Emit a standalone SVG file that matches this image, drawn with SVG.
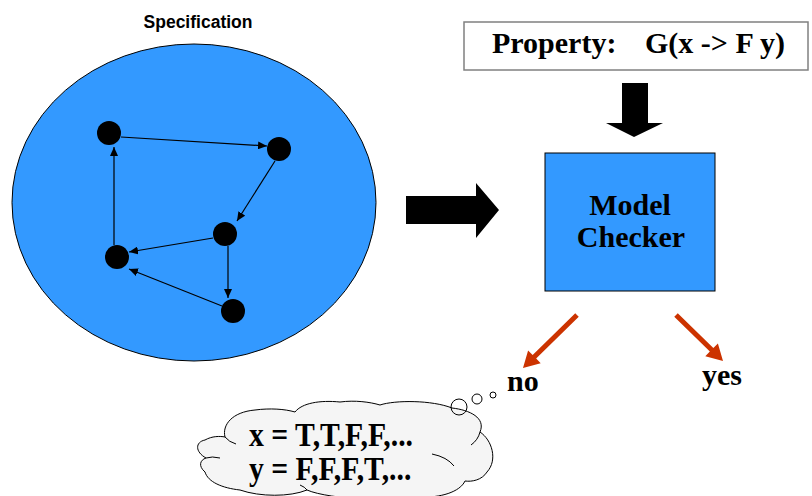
<svg xmlns="http://www.w3.org/2000/svg" width="812" height="496" viewBox="0 0 812 496">
<defs>
<style>
.sans{font-family:"Liberation Sans",Arial,sans-serif;font-weight:bold}
.serif{font-family:"Liberation Serif","Times New Roman",serif;font-weight:bold;fill:#000}
.edge{stroke:#000;stroke-width:1.2;fill:none;marker-end:url(#ah)}
.st{fill:#000}
.blue{fill:#3399FF;stroke:#000;stroke-width:1}
.red{fill:#CC3300}
.ln{fill:none;stroke:#000;stroke-width:1}
</style>
<marker id="ah" markerUnits="userSpaceOnUse" markerWidth="9" markerHeight="8" refX="9" refY="4" orient="auto" viewBox="0 0 9 8">
<path d="M0,0 L9,4 L0,8 z" fill="#000"/>
</marker>
</defs>
<rect width="812" height="496" fill="#fff"/>

<g id="spec">
<text class="sans" x="198" y="28" font-size="17.5" text-anchor="middle">Specification</text>
<ellipse class="blue" cx="194" cy="202.5" rx="182" ry="158.5"/>
</g>

<g id="connectors">
<line class="edge" x1="121" y1="137" x2="267" y2="146"/>
<line class="edge" x1="275" y1="161" x2="237" y2="221"/>
<line class="edge" x1="213" y1="238" x2="129" y2="252"/>
<line class="edge" x1="228" y1="246" x2="228" y2="298"/>
<line class="edge" x1="222" y1="306" x2="129" y2="269"/>
<line class="edge" x1="114" y1="245" x2="114" y2="147"/>
<polygon id="arrow-right" class="st" points="406,196 476,196 476,183 499,210 476,238 476,224 406,224"/>
<polygon id="arrow-down" class="st" points="622,83 648,83 648,123 663,123 634,137 606,123 622,123"/>
<polygon id="arrow-no" class="red" points="578.75,316.78 536.15,358.58 540.7,363.2 523,368 528.1,350.4 532.65,355.02 575.25,313.22"/>
<polygon id="arrow-yes" class="red" points="674.25,316.79 709.85,351.59 705.3,356.2 723,361 717.9,343.4 713.35,348.02 677.75,313.22"/>
</g>

<g id="n1"><circle class="st" cx="109" cy="133" r="12"/></g>
<g id="n2"><circle class="st" cx="279" cy="149" r="12"/></g>
<g id="n3"><circle class="st" cx="225" cy="234" r="12"/></g>
<g id="n4"><circle class="st" cx="117" cy="257" r="12"/></g>
<g id="n5"><circle class="st" cx="233" cy="311" r="12"/></g>

<g id="property">
<rect x="464" y="22" width="344" height="48" fill="#fff" stroke="#808080" stroke-width="1.5"/>
<text class="serif" x="492" y="53" font-size="30">Property:</text>
<text class="serif" x="645" y="53" font-size="30">G(x -&gt; F y)</text>
</g>

<g id="checker">
<rect class="blue" x="545" y="153" width="170" height="138"/>
<text class="serif" x="630" y="215" font-size="30" text-anchor="middle">Model</text>
<text class="serif" x="631" y="247" font-size="30" text-anchor="middle">Checker</text>
</g>

<g id="no"><text class="serif" x="507" y="391" font-size="30">no</text></g>
<g id="yes"><text class="serif" x="702" y="385" font-size="30">yes</text></g>

<g id="cloud">
<path d="M225,437 C222,425 232,412 255,410 C270,408 285,409 295,412 C302,403 320,400 340,402 C355,400 370,402 380,405 C395,400 432,400 452,408 C470,410 486,418 480,432 C492,440 498,460 487,472 C482,480 472,482 465,481 C460,492 440,498 420,497 C400,502 330,500 307,490 C290,497 260,497 240,490 C222,488 208,482 205,472 C198,466 200,460 206,458 C195,452 195,442 205,440 C212,436 220,436 225,437 Z" fill="#F5F5F5" stroke="#000" stroke-width="1"/>
<path class="ln" d="M225,437 Q229,442 236,444 M480,432 Q478,440 471,445 M432,454 Q447,457 454,466 M307,490 Q305,487 300,485 M206,458 Q212,456 220,458"/>
<circle class="ln" cx="459" cy="407" r="8"/>
<circle class="ln" cx="477" cy="399" r="5"/>
<circle class="ln" cx="493" cy="395" r="3"/>
<text class="serif" font-size="33" transform="translate(249,446) scale(0.9,1)">x = T,T,F,F,...</text>
<text class="serif" font-size="33" transform="translate(249,480) scale(0.9,1)">y = F,F,F,T,...</text>
</g>
</svg>
